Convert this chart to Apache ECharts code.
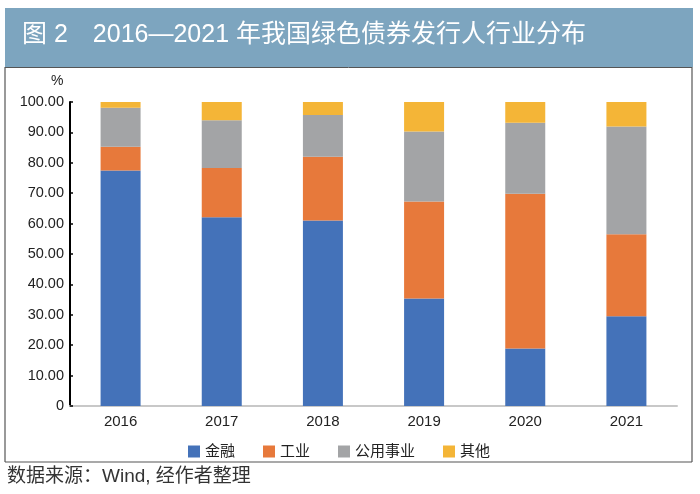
<!DOCTYPE html>
<html><head><meta charset="utf-8">
<script src="https://cdn.jsdelivr.net/npm/echarts@6/dist/echarts.min.js"></script>
<style>html,body{margin:0;padding:0;background:#fff}#c{width:700px;height:494px}</style>
</head><body><div id="c"></div>
<script>
const categories = ['2016','2017','2018','2019','2020','2021'];
const finance = [77.5, 62.1, 61.0, 35.4, 18.9, 29.5];
const industry = [7.8, 16.2, 21.0, 31.9, 50.9, 27.0];
const utilities = [12.8, 15.7, 13.7, 23.0, 23.4, 35.4];
const others = [1.9, 6.0, 4.3, 9.7, 6.8, 8.1];
const seriesNames = ['金融','工业','公用事业','其他'];
const colors = ['#4472b9','#e7793b','#a3a4a6','#f4b537'];
const FF = 'Liberation Sans, Noto Sans CJK SC, sans-serif';

const chart = echarts.init(document.getElementById('c'));
const mk = (name, data, i) => ({
  name, type:'bar', stack:'total', data, barWidth:40,
  itemStyle:{color:colors[i]}
});
chart.setOption({
  animation:false,
  textStyle:{fontFamily:FF},
  graphic:[
    {type:'rect', shape:{x:5,y:8,width:688,height:59}, style:{fill:'#7da5bf'}},
    {type:'text', left:22, top:23, style:{text:'图 2　2016—2021 年我国绿色债券发行人行业分布', fill:'#fff', font:'25px '+FF}},
    {type:'line', shape:{x1:5,y1:67,x2:5,y2:462}, style:{stroke:'#555',lineWidth:1.2}},
    {type:'line', shape:{x1:692,y1:67,x2:692,y2:462}, style:{stroke:'#555',lineWidth:1.2}},
    {type:'line', shape:{x1:5,y1:462,x2:692,y2:462}, style:{stroke:'#555',lineWidth:1.2}},
    {type:'line', shape:{x1:5,y1:67.5,x2:692,y2:67.5}, style:{stroke:'#555',lineWidth:1}},
    {type:'text', left:7, top:467, style:{text:'数据来源：Wind, 经作者整理', fill:'#333', font:'19px '+FF}},
    {type:'text', left:51, top:74, style:{text:'%', fill:'#222', font:'14px '+FF}}
  ],
  legend:{
    data:seriesNames, left:183, top:439, itemWidth:12, itemHeight:12, itemGap:28,
    icon:'rect', textStyle:{fontSize:15, color:'#222', fontFamily:FF}
  },
  grid:{left:70, right:23, top:102, bottom:88},
  xAxis:{
    type:'category', data:categories,
    axisLine:{lineStyle:{color:'#c8c8c8', width:2}},
    axisTick:{show:false},
    axisLabel:{fontSize:15, color:'#222', margin:8, fontFamily:FF}
  },
  yAxis:{
    type:'value', min:0, max:100, interval:10,
    axisLine:{show:true, lineStyle:{color:'#000', width:2}},
    axisTick:{show:true, inside:true, length:3, lineStyle:{color:'#000', width:1.5}},
    splitLine:{show:false},
    axisLabel:{fontSize:14.5, color:'#222', margin:6, fontFamily:FF,
      formatter:v => v === 0 ? '0' : v.toFixed(2)}
  },
  series:[mk(seriesNames[0],finance,0), mk(seriesNames[1],industry,1), mk(seriesNames[2],utilities,2), mk(seriesNames[3],others,3)]
});
</script></body></html>
